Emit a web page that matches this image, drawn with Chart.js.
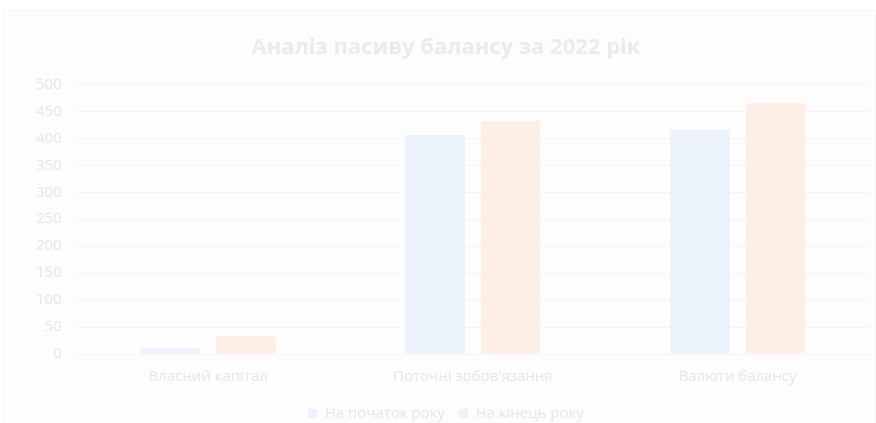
<!DOCTYPE html>
<html><head><meta charset="utf-8">
<script src="https://cdn.jsdelivr.net/npm/chart.js@4/dist/chart.umd.min.js"></script>
<style>html,body{margin:0;padding:0;background:#fff;overflow:hidden;}#wrap{position:absolute;left:3px;top:10px;width:873px;height:422px;background:#fdfdfd;border:1px solid #f6f6f6;box-sizing:border-box;}canvas{display:block;}</style>
</head><body><div id="wrap"><canvas id="c"></canvas></div>
<script>
const categories = ["Власний капітал", "Поточні зобов'язання", "Валюти балансу"];
const startValues = [10, 406, 416];
const endValues = [33, 432, 465];
const seriesNames = ["На початок року", "На кінець року"];
const yTicks = [0, 50, 100, 150, 200, 250, 300, 350, 400, 450, 500];

new Chart(document.getElementById('c'), {
  type: 'bar',
  data: {
    labels: categories,
    datasets: [
      {label: seriesNames[0], data: startValues, backgroundColor: '#ebf2fb', categoryPercentage: 0.57, barPercentage: 0.79},
      {label: seriesNames[1], data: endValues, backgroundColor: '#fdefe5', categoryPercentage: 0.57, barPercentage: 0.79}
    ]
  },
  options: {
    responsive: true, maintainAspectRatio: false, animation: false,
    layout: {padding: {left: 18, right: 5, top: 8, bottom: 0}},
    plugins: {
      title: {display: true, text: 'Аналіз пасиву балансу за 2022 рік', color: '#ebebeb',
        font: {family: 'Open Sans', size: 22, weight: 'bold'}, padding: {top: 16, bottom: 23}},
      legend: {position: 'bottom', labels: {color: '#e6e6e6', boxWidth: 9, boxHeight: 9, padding: 14,
        font: {family: 'Open Sans', size: 15}}},
      tooltip: {enabled: false}
    },
    scales: {
      x: {grid: {display: false}, border: {display: false},
        ticks: {color: '#e6e6e6', font: {family: 'Open Sans', size: 15}, padding: 6}},
      y: {min: 0, max: 500, afterBuildTicks: s => { s.ticks = yTicks.map(v => ({value: v})); },
        grid: {color: '#f4f4f4', drawTicks: false}, border: {display: false},
        ticks: {color: '#e6e6e6', font: {family: 'Open Sans', size: 15}, padding: 14}}
    }
  }
});
</script></body></html>
